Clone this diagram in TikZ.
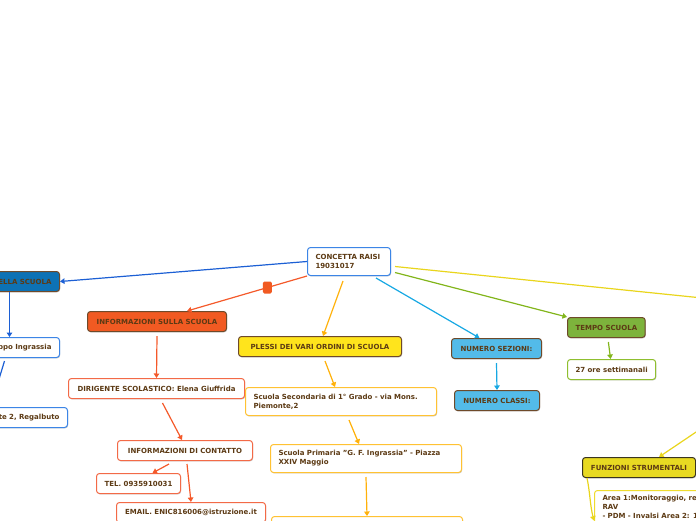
\documentclass[tikz,border=0pt]{standalone}
\usepackage{fontspec}
\setmainfont{DejaVu Sans}
\usetikzlibrary{arrows.meta,shadows}
\definecolor{txt}{HTML}{5C3A14}
\definecolor{blueline}{HTML}{1C5FD4}
\definecolor{blueb}{HTML}{3C85E6}
\definecolor{bluef}{HTML}{0D72B5}
\definecolor{brownb}{HTML}{6E4A2A}
\definecolor{orline}{HTML}{F4592A}
\definecolor{orf}{HTML}{F15A22}
\definecolor{orb}{HTML}{F36A47}
\definecolor{yoline}{HTML}{FFB10A}
\definecolor{yof}{HTML}{FFE41C}
\definecolor{yob}{HTML}{FFC233}
\definecolor{cyline}{HTML}{17A8E3}
\definecolor{cyf}{HTML}{53BBE9}
\definecolor{grline}{HTML}{82B51B}
\definecolor{grf}{HTML}{7DB33C}
\definecolor{grb}{HTML}{8FBF2F}
\definecolor{yeline}{HTML}{E9D51C}
\definecolor{yef}{HTML}{E8DA22}
\definecolor{yeb}{HTML}{3A3520}
\definecolor{chb}{HTML}{EFDC2E}
\begin{document}
\begin{tikzpicture}[x=1pt,y=-1pt,
  every node/.style={font=\fontsize{7}{9}\selectfont\bfseries, text=txt},
  box/.style={draw, rounded corners=3pt, line width=1pt, minimum height=20pt,
    inner xsep=8pt, inner ysep=3pt, anchor=north west,
    drop shadow={shadow xshift=0.6pt, shadow yshift=-0.9pt, opacity=0.22, fill=black}},
  conn/.style={line width=1.2pt, -{Triangle[length=4.5pt,width=5.5pt]}},
  bl/.style={conn, draw=blueline},
  orc/.style={conn, draw=orline},
  yoc/.style={conn, draw=yoline},
  cyc/.style={conn, draw=cyline},
  grc/.style={conn, draw=grline},
  yec/.style={conn, draw=yeline},
  marker/.style={fill=orf, rounded corners=1.5pt, minimum width=9pt, minimum height=12pt, inner sep=0pt}
]
\useasboundingbox (0,0) rectangle (696,520);
\clip (0,0) rectangle (696,520);

% nodes
\node[box, draw=blueb, fill=white, text width=67pt, align=left, minimum height=28pt] (root) at (307,247) {CONCETTA RAISI\\19031017};

\node[box, anchor=north east, draw=brownb, fill=bluef, text width=90pt, align=right] (ella) at (60,271) {ELLA SCUOLA};
\node[box, anchor=north east, draw=blueb, fill=white, text width=90pt, align=right] (ppo) at (60,337) {ppo Ingrassia};
\node[box, anchor=north east, draw=blueb, fill=white, text width=90pt, align=right] (te2) at (68,407) {te 2, Regalbuto};

\node[box, draw=brownb, fill=orf, minimum width=139pt] (info) at (87,311) {INFORMAZIONI SULLA SCUOLA};
\node[box, draw=orb, fill=white, minimum width=176pt] (dir) at (68,378) {DIRIGENTE SCOLASTICO: Elena Giuffrida};
\node[box, draw=orb, fill=white, minimum width=135pt] (cont) at (117,440) {INFORMAZIONI DI CONTATTO};
\node[box, draw=orb, fill=white, minimum width=84pt] (tel) at (96,473) {TEL. 0935910031};
\node[box, draw=orb, fill=white, minimum width=149pt] (email) at (116,502) {EMAIL. ENIC816006@istruzione.it};

\node[box, draw=brownb, fill=yof, minimum width=163pt] (plessi) at (238,336) {PLESSI DEI VARI ORDINI DI SCUOLA};
\node[box, draw=yob, fill=white, text width=175pt, align=left, minimum height=28pt] (sec) at (245,387) {Scuola Secondaria di 1° Grado - via Mons.\\Piemonte,2};
\node[box, draw=yob, fill=white, text width=175pt, align=left, minimum height=28pt] (prim) at (270,444) {Scuola Primaria "G. F. Ingrassia" - Piazza\\XXIV Maggio};
\node[box, draw=yob, fill=white, text width=175pt, minimum height=28pt] (next) at (271,516) {};

\node[box, draw=brownb, fill=cyf, minimum width=90pt] (numsez) at (451,338) {NUMERO SEZIONI:};
\node[box, draw=brownb, fill=cyf, minimum width=85pt] (numcl) at (454,390) {NUMERO CLASSI:};

\node[box, draw=brownb, fill=grf, minimum width=77pt] (tempo) at (567,317) {TEMPO SCUOLA};
\node[box, draw=grb, fill=white, minimum width=88pt] (ore) at (567,359) {27 ore settimanali};

\node[box, draw=yeb, fill=yef, minimum width=113pt] (funz) at (582,457) {FUNZIONI STRUMENTALI};
\node[box, draw=chb, fill=white, text width=170pt, align=left, inner ysep=5pt, text depth=45pt] (child) at (594,490) {Area 1:Monitoraggio, re\\RAV\\- PDM - Invalsi Area 2: 1};

\coordinate (offa) at (800,308);
\coordinate (offb) at (800,362);

% connectors
\draw[bl] (root.west) -- (ella.east);
\draw[bl] ([xshift=3pt]ella.south) -- ([xshift=3pt]ppo.north);
\draw[bl] ([xshift=-2pt,yshift=-3pt]ppo.south) -- ([xshift=-24pt]te2.north);

\draw[orc] (root.south west) -- ([xshift=30pt]info.north) node[pos=0.33, marker] (mark) {};
\draw[orc] ([yshift=-4pt]info.south) -- (dir.north);
\draw[orc] ([xshift=6pt,yshift=-4pt]dir.south) -- ([xshift=-3pt]cont.north);
\draw[orc] ([xshift=-16pt,yshift=-3pt]cont.south) -- ([xshift=14pt]tel.north);
\draw[orc] ([xshift=2pt,yshift=-3pt]cont.south) -- (email.north);

\draw[yoc] ([xshift=-6pt,yshift=-5pt]root.south) -- ([xshift=3pt]plessi.north);
\draw[yoc] ([xshift=5pt,yshift=-4pt]plessi.south) -- ([xshift=-6pt]sec.north);
\draw[yoc] ([xshift=8pt,yshift=-4pt]sec.south) -- ([xshift=-7pt]prim.north);
\draw[yoc] ([yshift=-4pt]prim.south) -- (next.north);

\draw[cyc] ([xshift=27pt,yshift=-2pt]root.south) -- ([xshift=-17pt]numsez.north);
\draw[cyc] ([yshift=-4pt]numsez.south) -- (numcl.north);

\draw[grc] ([xshift=4pt,yshift=-11pt]root.east) -- (tempo.north west);
\draw[grc] ([xshift=2pt,yshift=-4pt]tempo.south) -- ([xshift=-1pt]ore.north);

\draw[yec] ([xshift=4pt,yshift=-5pt]root.east) -- (offa);
\draw[yec] (offb) -- ([xshift=20pt]funz.north);
\draw[yec] ([xshift=5pt]funz.south west) .. controls (590,492) and (590,505) .. (child.west);
\end{tikzpicture}
\end{document}
